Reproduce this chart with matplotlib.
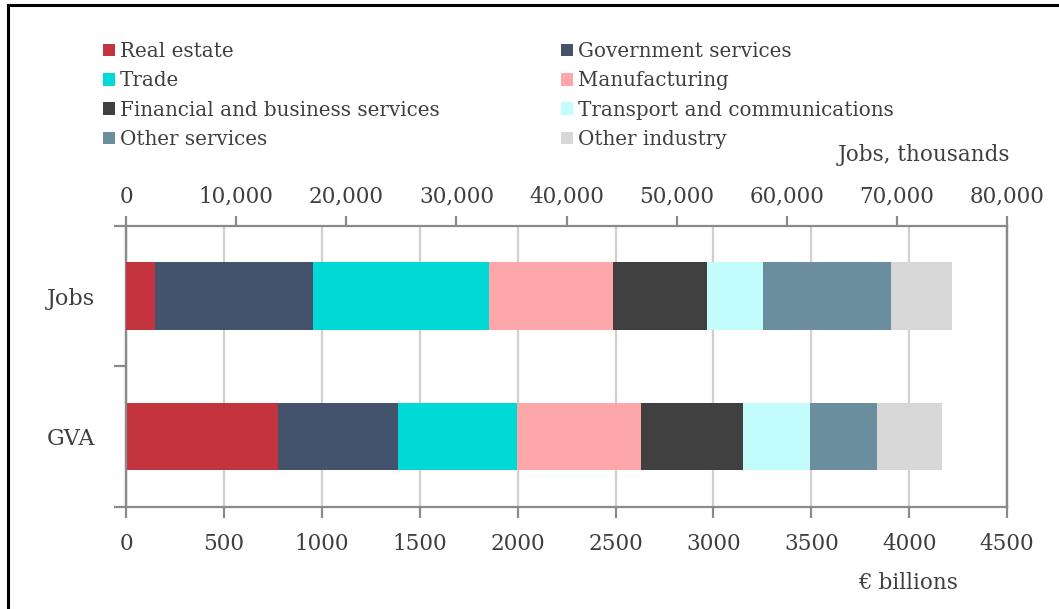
import matplotlib.pyplot as plt
from matplotlib.lines import Line2D
from matplotlib.ticker import FuncFormatter

sectors = ["Real estate", "Government services", "Trade", "Manufacturing",
           "Financial and business services", "Transport and communications",
           "Other services", "Other industry"]
colors = ["#c3343f", "#43536b", "#00d9d5", "#fda7ab",
          "#404040", "#c2fcfc", "#6a8e9d", "#d7d7d7"]

# jobs in thousands, gross value added in EUR billions
jobs = [2660, 14290, 15980, 11260, 8590, 5030, 11650, 5540]
gva = [775, 616, 608, 632, 519, 344, 342, 332]

txt = "#3f3f3f"
grey = "#8a8a8a"
plt.rcParams["font.family"] = ["DejaVu Serif"]
plt.rcParams["font.size"] = 14
plt.rcParams["text.color"] = txt

fig = plt.figure(figsize=(10.59, 6.09), dpi=100)
ax = fig.add_axes([0.119, 0.168, 0.832, 0.461])
ax2 = ax.twiny()

bar_h = 0.48
left_g = 0
left_j = 0
handles = []
for name, c, j, g in zip(sectors, colors, jobs, gva):
    ax.barh(0, g, left=left_g, height=bar_h, color=c, zorder=3)
    h = ax2.barh(1, j, left=left_j, height=bar_h, color=c, zorder=3, label=name)
    handles.append(h)
    left_g += g
    left_j += j

ax.set_xlim(0, 4500)
ax2.set_xlim(0, 80000)
ax.set_ylim(-0.5, 1.5)
ax2.set_ylim(-0.5, 1.5)

ax.set_xticks(range(0, 4501, 500))
ax2.set_xticks(range(0, 80001, 10000))
ax2.xaxis.set_major_formatter(FuncFormatter(lambda v, p: f"{int(v):,}"))

ax.grid(axis="x", color="#d3cfcb", linewidth=1.6, zorder=0)
ax.set_axisbelow(True)
ax2.set_zorder(ax.get_zorder() + 1)
ax2.patch.set_visible(False)

for a in (ax, ax2):
    for s in a.spines.values():
        s.set_color(grey)
        s.set_linewidth(1.6)
ax.spines["top"].set_visible(False)
ax2.spines["bottom"].set_visible(False)

ax.tick_params(axis="x", direction="out", length=8, width=1.6, color=grey,
               labelcolor=txt, labelsize=15.5, pad=11)
ax2.tick_params(axis="x", direction="out", length=7, width=1.6, color=grey,
                labelcolor=txt, labelsize=15.5, pad=6)

ax.set_yticks([0, 1])
ax.set_yticklabels(["GVA", "Jobs"])
ax.set_yticks([-0.5, 0.5, 1.5], minor=True)
ax.tick_params(axis="y", which="major", length=0, pad=22, labelsize=16,
               labelcolor=txt)
ax.tick_params(axis="y", which="minor", length=9, width=1.6, color=grey)
ax2.tick_params(axis="y", left=False, right=False)

order = [0, 2, 4, 6, 1, 3, 5, 7]
fig.legend([handles[i] for i in order], [sectors[i] for i in order],
           ncol=2, loc="upper left", bbox_to_anchor=(0.0973, 0.931),
           frameon=False, fontsize=14.3, handlelength=0.6, handleheight=0.6,
           handletextpad=0.25, labelspacing=0.52, columnspacing=6.1,
           borderaxespad=0, borderpad=0)

fig.text(0.954, 0.745, "Jobs, thousands", ha="right", va="center", fontsize=15.5)
fig.text(0.857, 0.043, "\u20ac billions", ha="center", va="center", fontsize=15.5)

# frame edges of the surrounding box
fig.add_artist(Line2D([0.0075, 1.0], [0.991, 0.991], color="black", linewidth=2.2))
fig.add_artist(Line2D([0.0075, 0.0075], [0.0, 0.991], color="black", linewidth=2.2))

fig.savefig("out.png", dpi=100)
